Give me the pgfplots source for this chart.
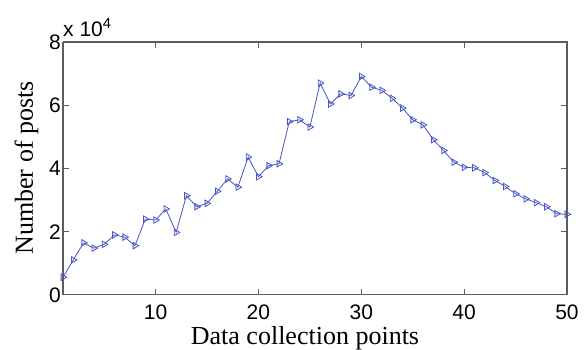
\documentclass[border=0pt]{standalone}
\usepackage{fontspec}
\setmainfont{Liberation Serif}
\newfontfamily\arialf{Liberation Sans}
\usepackage{pgfplots}
\pgfplotsset{compat=1.18}
\definecolor{lineblue}{rgb}{0.27,0.33,0.78}
\definecolor{framegray}{rgb}{0.36,0.36,0.40}
\pgfplotstableread{
x y
1 5600
2 11100
3 16500
4 14800
5 16000
6 19000
7 18300
8 15600
9 24000
10 23700
11 27200
12 19800
13 31400
14 27900
15 29000
16 32800
17 36700
18 34100
19 43600
20 37400
21 40900
22 41500
23 54800
24 55400
25 53100
26 67000
27 60400
28 63600
29 63100
30 69100
31 65700
32 64700
33 62200
34 59100
35 55400
36 53800
37 49100
38 45700
39 42000
40 40400
41 40200
42 38700
43 36200
44 34300
45 32000
46 30400
47 29200
48 27900
49 25700
50 25500
}\posts
\begin{document}
\begin{tikzpicture}
\begin{axis}[
  at={(0,0)}, anchor=south west,
  scale only axis, width=504pt, height=253pt,
  xmin=1, xmax=50, ymin=0, ymax=80000,
  xtick={10,20,30,40,50},
  xticklabels={10,20,30,40,50},
  ytick={0,20000,40000,60000,80000},
  yticklabels={0,2,4,6,8},
  scaled y ticks=false,
  tick label style={font=\arialf\fontsize{21}{25}\selectfont},
  xticklabel style={anchor=base, yshift=-24pt, inner sep=0pt},
  yticklabel style={anchor=east, inner sep=0pt, xshift=-2pt},
  tick align=inside, major tick length=6pt,
  axis line style={draw=framegray, line width=1pt},
  major tick style={draw=framegray, line width=1pt},
  xlabel={Data collection points},
  xlabel style={font=\fontsize{26}{30}\selectfont, at={(rel axis cs:0.5,0)}, anchor=base, xshift=-10pt, yshift=-49pt, inner sep=0pt},
  clip=false,
]
\addplot[color=lineblue, line width=0.8pt, mark=triangle, mark size=3.7pt,
  mark options={rotate=-90, solid, line width=0.8pt, fill=none}] table[x=x,y=y] {\posts};
\node[anchor=base west, inner sep=0pt, font=\arialf\fontsize{21}{25}\selectfont]
  at (rel axis cs:0,1) [yshift=6pt] {x 10\textsuperscript{4}};
\end{axis}
\draw[draw=framegray, line width=1pt] (0,0) -- (504pt,0) -- (504pt,253pt) -- (0,253pt) -- cycle;
\node[rotate=90, anchor=base, inner sep=0pt, font=\fontsize{26}{30}\selectfont]
  at (-30pt,127pt) {Number of posts};
\path (-63pt,-54pt) rectangle (524pt,295pt);
\end{tikzpicture}
\end{document}
